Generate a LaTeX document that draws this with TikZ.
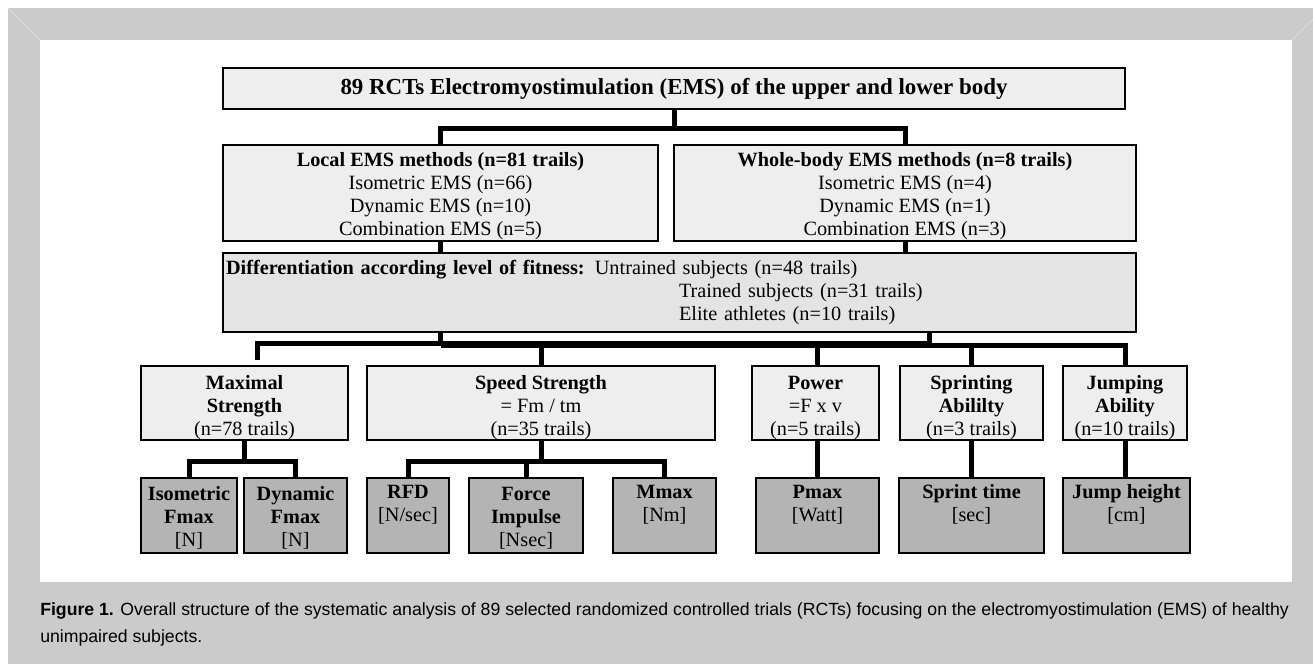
\documentclass[tikz,border=0pt]{standalone}
\usepackage{xcolor}
\usepackage{fontspec}
\setmainfont{Liberation Serif}
\newfontfamily\capfont{Liberation Sans}
\usepackage{tikz}
\usetikzlibrary{positioning}
\definecolor{framegray}{RGB}{203,203,203}
\definecolor{bevelgray}{RGB}{222,222,222}
\definecolor{boxlight}{RGB}{238,238,238}
\definecolor{fitgray}{RGB}{228,228,228}
\definecolor{boxdark}{RGB}{180,180,180}

\begin{document}
\begin{tikzpicture}[x=0.75pt,y=-0.75pt,
    box/.style={draw,line width=1.5pt,fill=boxlight,inner sep=0pt,align=center,
      font=\fontsize{15.2}{17.25}\selectfont},
    headbox/.style={box,line width=2pt,font=\fontsize{17.2}{20}\selectfont\bfseries},
    methodbox/.style={box,minimum height=72pt,text height=66.75pt},
    fitbox/.style={box,fill=fitgray,align=left},
    catbox/.style={box,minimum height=52.5pt,text height=52.5pt},
    unitbox/.style={box,fill=boxdark,minimum height=56.25pt,text height=48.5pt},
    conn/.style={line width=3.75pt},
    captext/.style={anchor=base west,inner sep=0pt,font=\capfont\fontsize{13.25}{20.25}\selectfont}]
    % Frame
    \useasboundingbox (0,0) rectangle (1313,664);
    \fill[white] (0,0) rectangle (1313,664);
    \fill[framegray] (8,8) rectangle (1313,664);
    \fill[white] (40,40) rectangle (1292,582);
    \draw[bevelgray,line width=0.6pt] (8,8) -- (40,40);
    \draw[bevelgray,line width=0.6pt] (1292,40) -- (1313,19);
    % Top box
    \node[headbox,minimum width=676.5pt,minimum height=30.75pt] (top) at (674,88.5)
      {89 RCTs Electromyostimulation (EMS) of the upper and lower body};
    % Methods
    \node[methodbox,minimum width=326.25pt] (local) at (440.5,193)
      {\textbf{Local EMS methods (n=81 trails)}\\Isometric EMS (n=66)\\Dynamic EMS (n=10)\\Combination EMS (n=5)};
    \node[methodbox,minimum width=346.5pt] (whole) at (905,193)
      {\textbf{Whole-body EMS methods (n=8 trails)}\\Isometric EMS (n=4)\\Dynamic EMS (n=1)\\Combination EMS (n=3)};
    % Fitness level
    \node[fitbox,minimum width=684.75pt,minimum height=59.25pt,text width=680.25pt] (diff) at (679.5,292.5)
      {\textbf{Differentiation according level of fitness:} Untrained subjects (n=48 trails)\\
       \hspace*{339.75pt}Trained subjects (n=31 trails)\\
       \hspace*{339.75pt}Elite athletes (n=10 trails)};
    % Categories
    \node[catbox,minimum width=155.25pt] (maximal) at (244.5,403)
      {\textbf{Maximal}\\\textbf{Strength}\\(n=78 trails)};
    \node[catbox,minimum width=261pt] (speed) at (541,403)
      {\textbf{Speed Strength}\\= Fm / tm\\(n=35 trails)};
    \node[catbox,minimum width=95.25pt] (power) at (815.5,403)
      {\textbf{Power}\\=F x v\\(n=5 trails)};
    \node[catbox,minimum width=107.25pt] (sprinting) at (971.5,403)
      {\textbf{Sprinting}\\\textbf{Abililty}\\(n=3 trails)};
    \node[catbox,minimum width=93pt] (jumping) at (1125,403)
      {\textbf{Jumping}\\\textbf{Ability}\\(n=10 trails)};
    % Measures
    \node[unitbox,minimum width=72pt] (isofmax) at (189,515.5)
      {\textbf{Isometric}\\\textbf{Fmax}\\{[N]}};
    \node[unitbox,minimum width=77.25pt] (dynfmax) at (295.5,515.5)
      {\textbf{Dynamic}\\\textbf{Fmax}\\{[N]}};
    \node[unitbox,minimum width=61.5pt] (rfd) at (408,515.5)
      {\textbf{RFD}\\{[N/sec]}\\\strut};
    \node[unitbox,minimum width=85.5pt] (impulse) at (526,515.5)
      {\textbf{Force}\\\textbf{Impulse}\\{[Nsec]}};
    \node[unitbox,minimum width=77.25pt] (mmax) at (664.5,515.5)
      {\textbf{Mmax}\\{[Nm]}\\\strut};
    \node[unitbox,minimum width=92.25pt] (pmax) at (817.5,515.5)
      {\textbf{Pmax}\\{[Watt]}\\\strut};
    \node[unitbox,minimum width=108.75pt] (sprint) at (971.5,515.5)
      {\textbf{Sprint time}\\{[sec]}\\\strut};
    \node[unitbox,minimum width=95.25pt] (jump) at (1126.5,515.5)
      {\textbf{Jump height}\\{[cm]}\\\strut};
    % Top split
    \draw[conn] (top.south) -- ++(0,18) coordinate (splittop);
    \draw[conn] (local.north) |- (splittop) -| (whole.north);
    \draw[conn] (local.south) -- (local.south |- diff.north);
    \draw[conn] (whole.south) -- (whole.south |- diff.north);
    % Fitness split
    \coordinate (dr) at (929,332);
    \draw[conn] (diff.south -| local.south) -- ++(0,10.5) coordinate (splitl);
    \draw[conn] (dr) -- ++(0,13.5) coordinate (splitr);
    \draw[conn,shorten <=3.75pt] ([xshift=10.1pt]maximal.north) |- (splitl) -- (splitl -| dr);
    \draw[conn] (splitl |- splitr) -- (splitr) -| (jumping.north);
    \draw[conn] (speed.north) -- (speed.north |- splitr);
    \draw[conn] (pmax.north |- power.north) -- (pmax.north |- splitr);
    \draw[conn] (sprinting.north) -- (sprinting.north |- splitr);
    % Measure splits
    \draw[conn] (maximal.south) -- ++(0,20) coordinate (splitmax);
    \draw[conn] (isofmax.north) |- (splitmax) -| (dynfmax.north);
    \draw[conn] (speed.south) -- ++(0,20) coordinate (splitspeed);
    \draw[conn] (rfd.north) |- (splitspeed) -| (mmax.north);
    \draw[conn] (impulse.north) -- (impulse.north |- splitspeed);
    \draw[conn] (pmax.north |- power.south) -- (pmax.north);
    \draw[conn] (sprinting.south) -- (sprint.north);
    \draw[conn] (jumping.south) -- (jumping.south |- jump.north);
    % Caption
    \node[captext] (caption1) at (40,615)
      {\textbf{Figure 1.} Overall structure of the systematic analysis of 89 selected randomized controlled trials (RCTs) focusing on the electromyostimulation (EMS) of healthy};
    \node[captext] (caption2) at (40,642) {unimpaired subjects.};
\end{tikzpicture}
\end{document}
